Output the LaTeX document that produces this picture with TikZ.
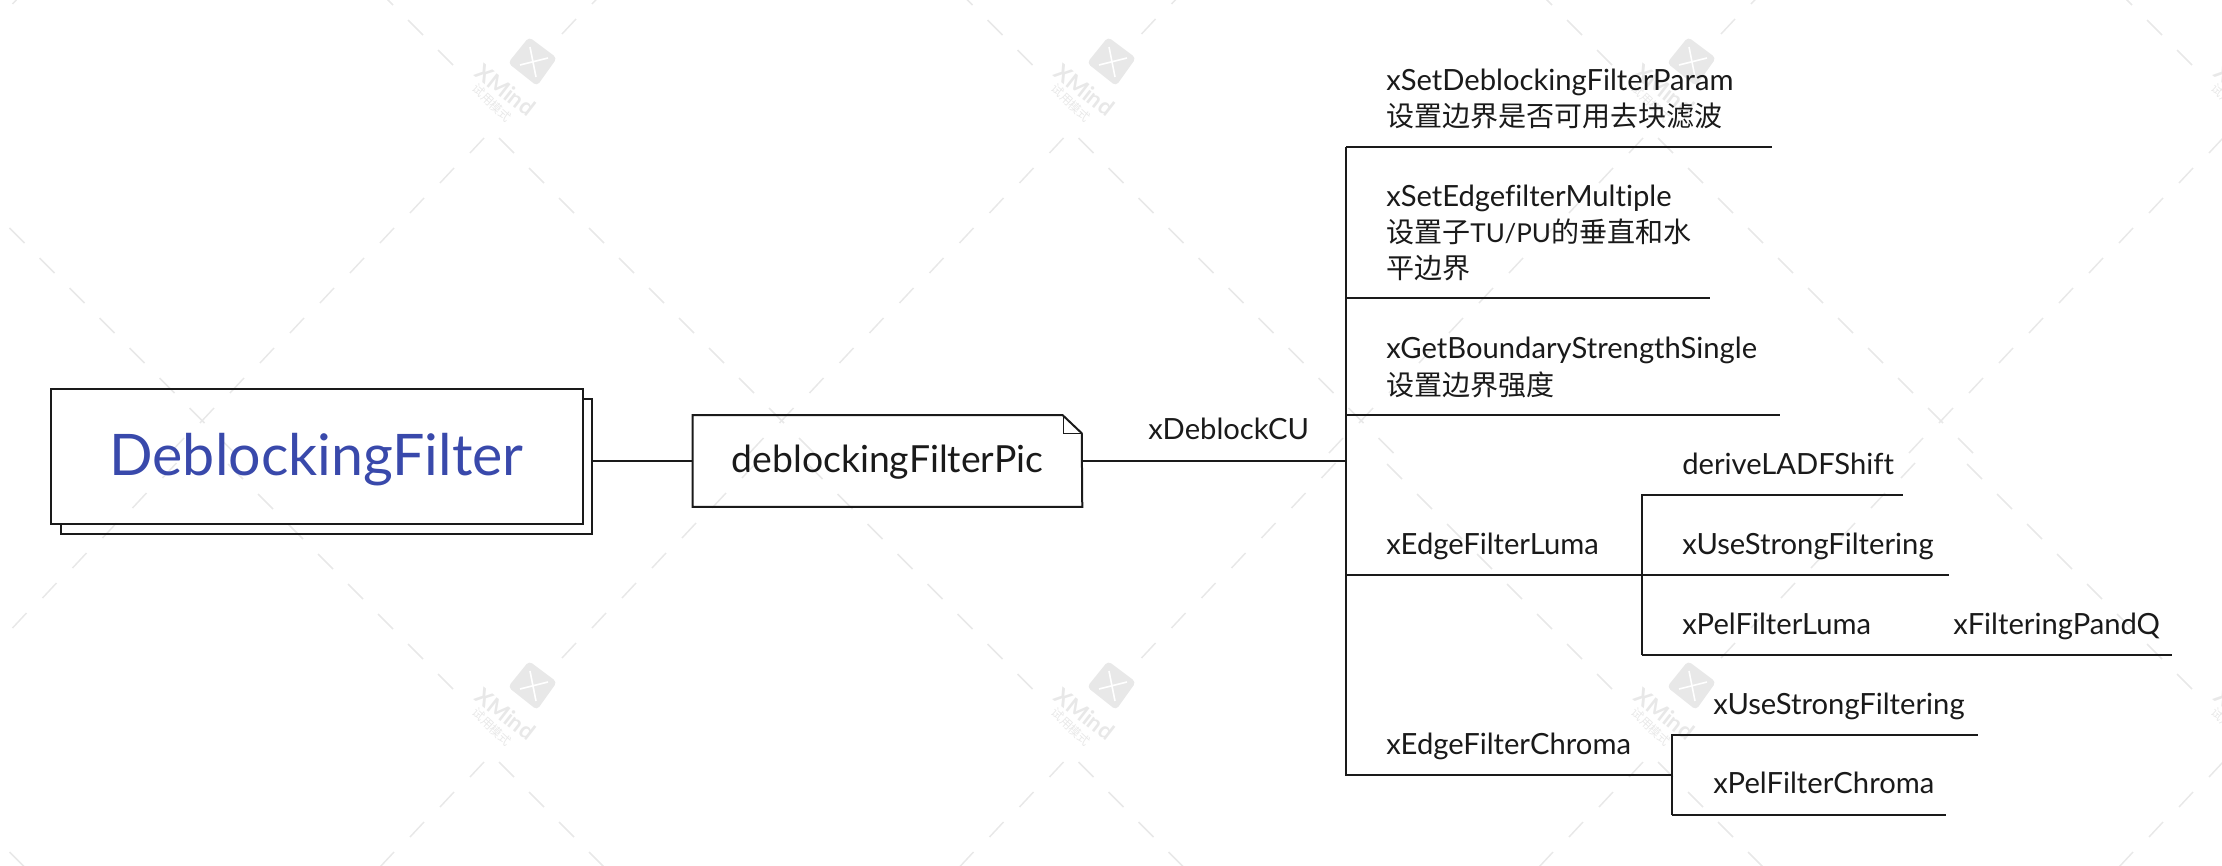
\documentclass[tikz,border=0pt]{standalone}
\usepackage{fontspec}
\setmainfont{Lato}[Ligatures=NoCommon]
\newfontfamily\cjk[Scale=0.96]{Noto Sans CJK SC}
\definecolor{inkline}{HTML}{1A1A1A}
\definecolor{rootblue}{HTML}{3949AB}
\definecolor{markgrey}{HTML}{E8E8E8}
\begin{document}
\begin{tikzpicture}[x=0.75pt,y=-0.75pt]
\useasboundingbox (0,0) rectangle (2222,866);

\tikzstyle{markdash}=[markgrey,line width=1.1pt]
\tikzstyle{branch}=[inkline,line width=1.5pt]
\tikzstyle{topic}=[anchor=base west,inner sep=0pt,text=inkline,font=\fontsize{21.9}{27}\selectfont,align=left]

% trial mark, tiled under everything
\begin{scope}
\clip (0,0) rectangle (2222,866);
\foreach \lx in {-46.5,533,1112.5,1692,2272} \foreach \ly in {62,686} {
  \foreach \k in {0,...,10} {
    \draw[markdash] (\lx-34+30*\k,\ly+76+30*\k) -- ++(15,15);
    \draw[markdash] (\lx-49-30*\k,\ly+76+30*\k) -- ++(-14,15);
  }
  \foreach \k in {0,...,7} \draw[markdash] (\lx-95-30*\k,\ly-12-30*\k) -- ++(15,15);
  \foreach \k in {0,...,6} \draw[markdash] (\lx+43+30*\k,\ly-43-30*\k) -- ++(-14,15);
}
\foreach \lx in {533,1112,1692,2272} \foreach \ly in {62,686} {
  \fill[markgrey,rounded corners=3pt] (\lx-4,\ly-25) -- (\lx+24,\ly-4) -- (\lx+4,\ly+24) -- (\lx-25,\ly+1) -- cycle;
  \draw[white,line width=1.2pt] (\lx-3,\ly-15) -- (\lx+3,\ly+15);
  \draw[white,line width=1.2pt] (\lx+15,\ly-4) -- (\lx-13,\ly+3);
  \draw (\lx-27.5,\ly+28) node[rotate=-38,text=markgrey,inner sep=0pt,font=\fontsize{17}{17}\bfseries\selectfont] (markname\lx\ly) {XMind};
  \draw (\lx-41,\ly+41) node[rotate=-43,text=markgrey,inner sep=0pt,font=\fontsize{9.4}{9.4}\cjk\selectfont] (marktrial\lx\ly) {试用模式};
}
\end{scope}

\draw (316.5,456.5) node[draw=inkline,line width=1.5pt,minimum width=399pt,minimum height=101.25pt,inner sep=0pt,text height=36pt,text depth=8pt,text=rootblue,font=\fontsize{43}{50}\selectfont] (root) {DeblockingFilter};
\draw[branch] (582.5,399) -- (592,399) -- (592,534) -- (61,534) -- (61,524);
\coordinate (rootedge) at (592,461);

\draw (887.5,461) node[minimum width=291.75pt,minimum height=68.25pt,inner sep=0pt,text height=23pt,text depth=5.5pt,text=inkline,font=\fontsize{28}{34}\selectfont] (pic) {deblockingFilterPic};
\draw[branch] (pic.north west) -- ++(370,0) -- ++(19,18) -- (pic.south east) -- (pic.south west) -- cycle;
\draw[branch,line width=1pt] (pic.north east) ++(-19,0) -- ++(0,18) -- ++(19,0);
\draw[branch] (rootedge) -- (pic.west);

% first level
\coordinate (cu) at (1346,461);
\coordinate (paramend) at (1772,147);
\coordinate (multiend) at (1710,298);
\coordinate (strengthend) at (1780,415);
\coordinate (lumajoin) at (1642,575);
\coordinate (chromajoin) at (1672,775);
\draw[branch] (pic.east) -- (cu);
\draw[branch] (cu|-paramend) -- (cu|-chromajoin) -- (chromajoin);
\draw[branch] (cu|-paramend) -- (paramend);
\draw[branch] (cu|-multiend) -- (multiend);
\draw[branch] (cu|-strengthend) -- (strengthend);
\draw[branch] (cu|-lumajoin) -- (lumajoin);

\draw (1148,439) node[topic] (deblockcu) {xDeblockCU};
\draw (1386,91) node[topic] (setparam) {xSetDeblockingFilterParam};
\draw (1386,127) node[topic] (setparamcn) {\cjk 设置边界是否可用去块滤波};
\draw (1386,207) node[topic] (setmulti) {xSetEdgefilterMultiple};
\draw (1386,243) node[topic] (setmulticn) {{\cjk 设置子}{\fontsize{19.5}{27}\selectfont TU/PU}{\cjk 的垂直和水}};
\draw (1386,278) node[topic] (setmultitail) {\cjk 平边界};
\draw (1386,358) node[topic] (getstrength) {xGetBoundaryStrengthSingle};
\draw (1386,395) node[topic] (getstrengthcn) {\cjk 设置边界强度};
\draw (1386,554) node[topic] (edgeluma) {xEdgeFilterLuma};
\draw (1386,754) node[topic] (edgechroma) {xEdgeFilterChroma};

% second level
\coordinate (ladfend) at (1903,495);
\coordinate (stronglumaend) at (1949,575);
\coordinate (pelend) at (2172,655);
\coordinate (strongchromaend) at (1978,735);
\coordinate (pelchromaend) at (1946,815);
\draw[branch] (lumajoin|-pelend) -- (lumajoin|-ladfend) -- (ladfend);
\draw[branch] (lumajoin) -- (stronglumaend);
\draw[branch] (lumajoin|-pelend) -- (pelend);
\draw[branch] (chromajoin|-pelchromaend) -- (chromajoin|-strongchromaend) -- (strongchromaend);
\draw[branch] (chromajoin|-pelchromaend) -- (pelchromaend);

\draw (1682,474) node[topic] (ladf) {deriveLADFShift};
\draw (1682,554) node[topic] (strongluma) {xUseStrongFiltering};
\draw (1682,634) node[topic] (pelluma) {xPelFilterLuma};
\draw (1953,634) node[topic] (pandq) {xFilteringPandQ};
\draw (1713,714) node[topic] (strongchroma) {xUseStrongFiltering};
\draw (1713,793) node[topic] (pelchroma) {xPelFilterChroma};
\end{tikzpicture}
\end{document}
